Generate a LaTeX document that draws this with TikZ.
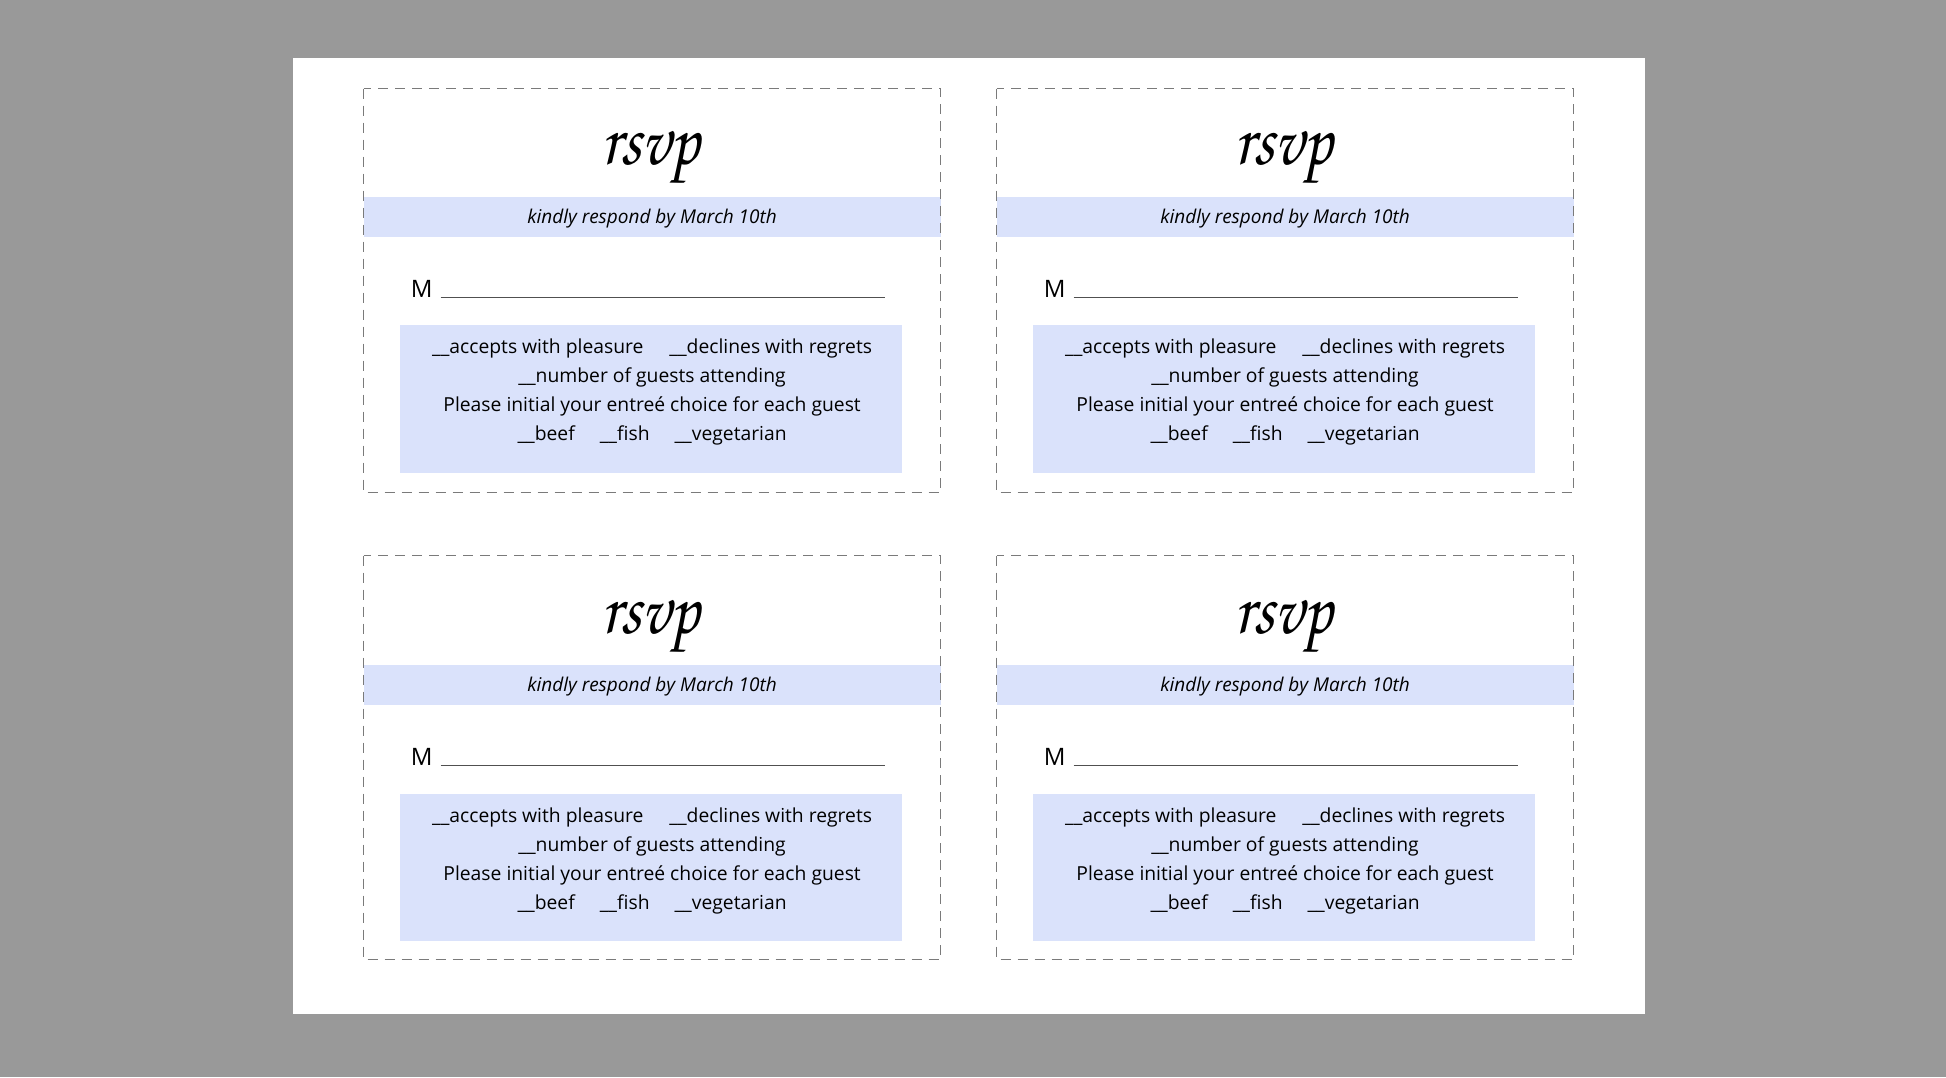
\documentclass[tikz,border=0pt]{standalone}
\usepackage{fontspec}
\setmainfont{Open Sans}
\newfontfamily\chorus{TeX Gyre Chorus}
\definecolor{bggray}{RGB}{153,153,153}
\definecolor{bandblue}{RGB}{218,226,251}
\definecolor{cutgray}{RGB}{122,122,122}
\definecolor{rulegray}{RGB}{80,80,80}
\tikzset{
  cutline/.style={draw=cutgray,line width=1.3pt,dash pattern=on 10pt off 7pt},
  bandfill/.style={fill=bandblue},
  rsvptext/.style={inner sep=0pt,anchor=base,font=\chorus\fontsize{66}{66}\selectfont},
  kindlytext/.style={inner sep=0pt,anchor=base,font=\itshape\fontsize{19}{22}\selectfont},
  bodytext/.style={inner sep=0pt,anchor=base,font=\fontsize{19.3}{23}\selectfont},
  mtext/.style={inner sep=0pt,anchor=base west,font=\fontsize{24}{28}\selectfont},
  nameline/.style={draw=rulegray,line width=1.1pt}
}
\begin{document}
\begin{tikzpicture}[x=1pt,y=-1pt]
\useasboundingbox (0,0) rectangle (1946,1077);
\fill[bggray] (0,0) rectangle (1946,1077);
\fill[white] (293,58.3) rectangle (1644.5,1014);
\foreach \cx/\cy/\dy/\k in {363.6/88.6/0/a, 996.6/88.6/0/b, 363.6/555.6/1.5/c, 996.6/555.6/1.5/d} {
  \begin{scope}[shift={(\cx,\cy)}]
    \fill[bandfill] (0,108+\dy) rectangle (577,148+\dy);
    \draw[cutline] (0,0) rectangle (577,404);
    \node[rsvptext] (rsvp\k) at (287,76+\dy) {\scalebox{1}[1.15]{rsvp}};
    \node[kindlytext] (kindly\k) at (288.5,134.5+\dy) {kindly respond by March 10th};
    \node[mtext] (m\k) at (47,208.5+\dy) {M};
    \coordinate (ls\k) at (77,208.5+\dy);
    \coordinate (le\k) at (521,208.5+\dy);
    \draw[nameline] (ls\k) -- (le\k);
    \fill[bandfill] (36,236.5+\dy) rectangle (538.6,384+\dy);
    \node[bodytext] (l1\k) at (288.5,265+\dy) {\_\_accepts with pleasure\hspace{26pt}\_\_declines with regrets};
    \node[bodytext] (l2\k) at (288.5,294+\dy) {\_\_number of guests attending};
    \node[bodytext] (l3\k) at (288.5,323+\dy) {Please initial your entreé choice for each guest};
    \node[bodytext] (l4\k) at (288.5,352+\dy) {\_\_beef\hspace{25pt}\_\_fish\hspace{25pt}\_\_vegetarian};
  \end{scope}
}
\end{tikzpicture}
\end{document}
